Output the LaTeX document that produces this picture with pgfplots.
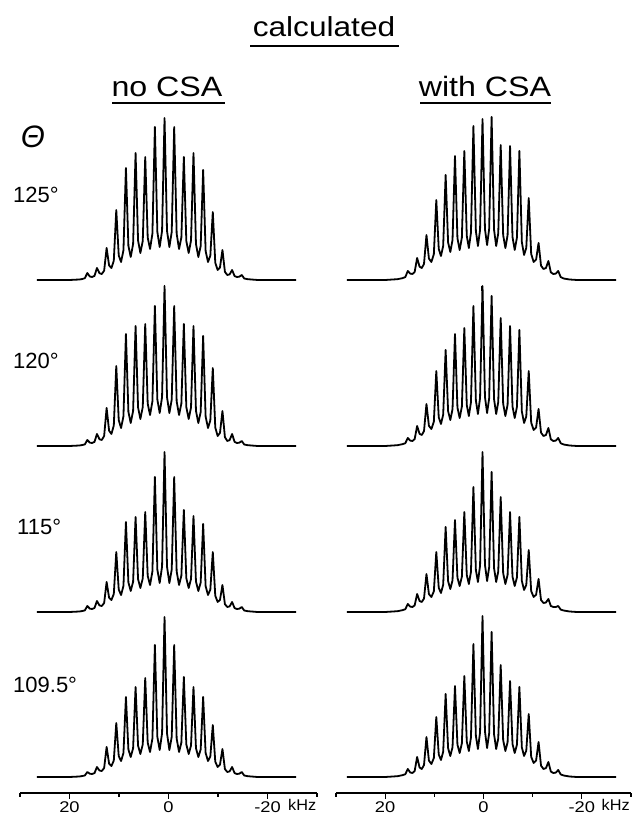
\documentclass[border=0pt]{standalone}
\usepackage{pgfplots}
\pgfplotsset{compat=1.18}
\usepackage{fontspec}
\setmainfont{Liberation Sans}
\pgfplotsset{
  spec/.style={scale only axis, height=181pt, xmin=-30, xmax=30, ymin=-16, ymax=165,
    x dir=reverse, clip=false, anchor=south west},
  specL/.style={spec, width=297pt},
  specR/.style={spec, width=295pt},
  hid/.style={hide axis},
  bot/.style={hide y axis, axis x line*=bottom,
    axis line style={line width=1.4pt, black},
    xtick={20,0,-20}, xticklabels={20,0,-20}, minor xtick={30,10,-10,-30},
    tick align=outside, major tick length=6pt, minor tick length=4pt,
    every tick/.style={line width=1.2pt, black},
    xticklabel style={font=\fontsize{15.5}{18}\selectfont, xscale=1.18, inner sep=2pt}},
  sp/.style={black, line width=1.8pt, line join=round, mark=none},
}
\begin{document}
\begin{tikzpicture}
\path[use as bounding box] (0pt,0pt) rectangle (633pt,818pt);
% ---------- left column (no CSA) ----------
\begin{axis}[specL, hid, at={(20pt,522pt)}]
\addplot[sp] coordinates {
(26.6,0) (20,0) (18,0.5) (17.4,1)
(16.9,1.8) (16.4,7) (15.9,3.5) (15.43,3)
(14.95,4.1) (14.45,12) (13.95,6.8) (13.48,6)
(13.0,9.3) (12.5,32) (12.0,14.5) (11.53,12)
(11.05,19.3) (10.55,70) (10.05,24.5) (9.58,18)
(9.1,29.8) (8.6,112) (8.1,34.1) (7.63,23)
(7.15,36) (6.65,127) (6.15,39.5) (5.68,27)
(5.2,39) (4.7,123) (4.2,42.5) (3.73,31)
(3.25,46.3) (2.75,153) (2.25,48) (1.78,33)
(1.3,49.1) (0.8,162) (0.3,49.1) (-0.18,33)
(-0.65,48) (-1.15,153) (-1.65,46.3) (-2.13,31)
(-2.6,42.5) (-3.1,123) (-3.6,39) (-4.08,27)
(-4.55,39.5) (-5.05,127) (-5.55,36) (-6.03,23)
(-6.5,33.9) (-7.0,110) (-7.5,29) (-7.98,18)
(-8.45,24.3) (-8.95,68) (-9.45,17.3) (-9.93,10)
(-10.4,12.5) (-10.9,30) (-11.4,8.1) (-11.88,5)
(-12.35,5.6) (-12.85,10) (-13.35,3.9) (-13.83,3)
(-14.3,3.3) (-14.8,5) (-15.3,1.5) (-16,0.8) (-18,0) (-25.8,0)};
\addplot[black, line width=1.2pt] coordinates {(0.8,-5) (0.8,-10)};
\end{axis}
\begin{axis}[specL, hid, at={(20pt,356pt)}]
\addplot[sp] coordinates {
(26.6,0) (20,0) (18,0.5) (17.4,1)
(16.9,1.6) (16.4,6) (15.9,3.4) (15.43,3)
(14.95,4.1) (14.45,12) (13.95,6.8) (13.48,6)
(13.0,10) (12.5,38) (12.0,15.3) (11.53,12)
(11.05,20.5) (10.55,80) (10.05,25.8) (9.58,18)
(9.1,29.8) (8.6,112) (8.1,34.1) (7.63,23)
(7.15,35.1) (6.65,120) (6.15,38.6) (5.68,27)
(5.2,38.9) (4.7,122) (4.2,42.4) (3.73,31)
(3.25,44.6) (2.75,140) (2.25,46.4) (1.78,33)
(1.3,48.9) (0.8,160) (0.3,48.9) (-0.18,33)
(-0.65,46.4) (-1.15,140) (-1.65,44.6) (-2.13,31)
(-2.6,42.4) (-3.1,122) (-3.6,38.9) (-4.08,27)
(-4.55,38.6) (-5.05,120) (-5.55,35.1) (-6.03,23)
(-6.5,33.9) (-7.0,110) (-7.5,29.5) (-7.98,18)
(-8.45,25.5) (-8.95,78) (-9.45,18.5) (-9.93,10)
(-10.4,13.1) (-10.9,35) (-11.4,8.8) (-11.88,5)
(-12.35,5.9) (-12.85,12) (-13.35,4.1) (-13.83,3)
(-14.3,3.3) (-14.8,5) (-15.3,1.5) (-16,0.8) (-18,0) (-25.8,0)};
\end{axis}
\begin{axis}[specL, hid, at={(20pt,190pt)}]
\addplot[sp] coordinates {
(26.6,0) (20,0) (18,0.5) (17.4,1)
(16.9,1.6) (16.4,6) (15.9,3.4) (15.43,3)
(14.95,4) (14.45,11) (13.95,6.6) (13.48,6)
(13.0,9) (12.5,30) (12.0,14.3) (11.53,12)
(11.05,18) (10.55,60) (10.05,22.4) (9.58,17)
(9.1,26.1) (8.6,90) (8.1,29.6) (7.63,21)
(7.15,30.3) (6.65,95) (6.15,32.9) (5.68,24)
(5.2,33.5) (4.7,100) (4.2,36.1) (3.73,27)
(3.25,40.5) (2.75,135) (2.25,42.3) (1.78,29)
(1.3,45.4) (0.8,160) (0.3,45.4) (-0.18,29)
(-0.65,42.3) (-1.15,135) (-1.65,40.5) (-2.13,27)
(-2.6,36.4) (-3.1,102) (-3.6,33.8) (-4.08,24)
(-4.55,33) (-5.05,96) (-5.55,30.4) (-6.03,21)
(-6.5,29.4) (-7.0,88) (-7.5,25.9) (-7.98,17)
(-8.45,22.4) (-8.95,60) (-9.45,16.3) (-9.93,10)
(-10.4,12.1) (-10.9,27) (-11.4,7.8) (-11.88,5)
(-12.35,5.6) (-12.85,10) (-13.35,3.9) (-13.83,3)
(-14.3,3.3) (-14.8,5) (-15.3,1.5) (-16,0.8) (-18,0) (-25.8,0)};
\end{axis}
\begin{axis}[specL, bot, at={(20pt,25pt)}]
\addplot[sp] coordinates {
(26.6,0) (20,0) (18,0.5) (17.4,1)
(16.9,1.5) (16.4,5) (15.9,3.3) (15.43,3)
(14.95,3.9) (14.45,10) (13.95,6.5) (13.48,6)
(13.0,9) (12.5,30) (12.0,13.4) (11.53,11)
(11.05,16.4) (10.55,54) (10.05,20.8) (9.58,16)
(9.1,24) (8.6,80) (8.1,27.5) (7.63,20)
(7.15,28.8) (6.65,90) (6.15,31.4) (5.68,23)
(5.2,32.5) (4.7,99) (4.2,34.3) (3.73,25)
(3.25,38.4) (2.75,132) (2.25,40.1) (1.78,27)
(1.3,43.6) (0.8,160) (0.3,43.6) (-0.18,27)
(-0.65,40.1) (-1.15,132) (-1.65,38.4) (-2.13,25)
(-2.6,34.4) (-3.1,100) (-3.6,32.6) (-4.08,23)
(-4.55,31.4) (-5.05,90) (-5.55,28.8) (-6.03,20)
(-6.5,27.5) (-7.0,80) (-7.5,24) (-7.98,16)
(-8.45,20.5) (-8.95,52) (-9.45,15.3) (-9.93,10)
(-10.4,12.3) (-10.9,28) (-11.4,7.9) (-11.88,5)
(-12.35,5.6) (-12.85,10) (-13.35,3.9) (-13.83,3)
(-14.3,3.3) (-14.8,5) (-15.3,1.5) (-16,0.8) (-18,0) (-25.8,0)};
\node[anchor=base, xscale=1.05, font=\fontsize{15.5}{18}\selectfont] at (axis cs:-27.0,-16) [yshift=-17pt] {kHz};
\end{axis}
% ---------- right column (with CSA) ----------
\begin{axis}[specR, hid, at={(336pt,522pt)}]
\addplot[sp] coordinates {
(27.8,0) (20,0) (17.5,0.8) (16.5,1.8)
(15.9,2.9) (15.4,9) (14.9,6.4) (14.45,6)
(14.0,8) (13.5,22) (13.0,13.3) (12.55,12)
(12.1,16.1) (11.6,45) (11.1,21.4) (10.6,18)
(10.1,25.8) (9.6,80) (9.1,31) (8.65,24)
(8.2,34.1) (7.7,105) (7.2,37.6) (6.75,28)
(6.3,40) (5.8,124) (5.3,41.8) (4.85,30)
(4.4,42.4) (3.9,129) (3.4,44.1) (2.98,32)
(2.55,47.3) (2.05,154) (1.55,49) (1.13,34)
(0.7,49.9) (0.2,161) (-0.3,50.8) (-0.73,35)
(-1.15,51) (-1.65,163) (-2.15,50.1) (-2.58,34)
(-3.0,46.6) (-3.5,135) (-4.0,44.9) (-4.45,32)
(-4.9,44.8) (-5.4,134) (-5.9,43) (-6.35,30)
(-6.8,42.4) (-7.3,129) (-7.8,38) (-8.25,25)
(-8.7,32.1) (-9.2,82) (-9.7,26) (-10.2,18)
(-10.7,20.4) (-11.2,37) (-11.7,14.3) (-12.2,11)
(-12.7,12) (-13.2,19) (-13.7,7.6) (-14.2,6)
(-14.7,6.4) (-15.2,9) (-15.7,2.9) (-16.3,1.5) (-17.5,0.5) (-19,0) (-27,0)};
\addplot[black, line width=1.2pt] coordinates {(0.4,-6) (0.4,-11)};
\end{axis}
\begin{axis}[specR, hid, at={(336pt,356pt)}]
\addplot[sp] coordinates {
(27.8,0) (20,0) (17.5,0.8) (16.5,1.8)
(15.9,2.8) (15.4,8) (14.9,5.4) (14.45,5)
(14.0,6.9) (13.5,20) (13.0,12.1) (12.55,11)
(12.1,14.9) (11.6,42) (11.1,20.1) (10.6,17)
(10.1,24.3) (9.6,75) (9.1,28.6) (8.65,22)
(8.2,31.3) (7.7,96) (7.2,34.8) (6.75,26)
(6.3,36.8) (5.8,112) (5.3,38.5) (4.85,28)
(4.4,39.3) (3.9,118) (3.4,41) (2.98,30)
(2.55,43.8) (2.05,140) (1.55,45.5) (1.13,32)
(0.7,48) (0.2,160) (-0.3,48.9) (-0.73,33)
(-1.15,47.6) (-1.65,150) (-2.15,46.8) (-2.58,32)
(-3.0,44) (-3.5,128) (-4.0,42.3) (-4.45,30)
(-4.9,41.3) (-5.4,120) (-5.9,39.5) (-6.35,28)
(-6.8,39) (-7.3,116) (-7.8,34.6) (-8.25,23)
(-8.7,29.5) (-9.2,75) (-9.7,23.4) (-10.2,16)
(-10.7,18.6) (-11.2,37) (-11.7,13.4) (-12.2,10)
(-12.7,11) (-13.2,18) (-13.7,6.6) (-14.2,5)
(-14.7,5.4) (-15.2,8) (-15.7,2.8) (-16.3,1.5) (-17.5,0.5) (-19,0) (-27,0)};
\end{axis}
\begin{axis}[specR, hid, at={(336pt,190pt)}]
\addplot[sp] coordinates {
(27.8,0) (20,0) (17.5,0.8) (16.5,1.8)
(15.9,2.8) (15.4,8) (14.9,5.4) (14.45,5)
(14.0,6.6) (13.5,18) (13.0,11) (12.55,10)
(12.1,13.5) (11.6,38) (11.1,17.9) (10.6,15)
(10.1,20.6) (9.6,60) (9.1,24.1) (8.65,19)
(8.2,27.3) (7.7,85) (7.2,30.8) (6.75,23)
(6.3,31.6) (5.8,92) (5.3,34.3) (4.85,26)
(4.4,35.3) (3.9,100) (3.4,37) (2.98,28)
(2.55,40.1) (2.05,125) (1.55,41.9) (1.13,30)
(0.7,46.3) (0.2,160) (-0.3,47.1) (-0.73,31)
(-1.15,44.6) (-1.65,140) (-2.15,43.8) (-2.58,30)
(-3.0,40.6) (-3.5,115) (-4.0,38.9) (-4.45,28)
(-4.9,37) (-5.4,100) (-5.9,35.3) (-6.35,26)
(-6.8,34.6) (-7.3,95) (-7.8,31.1) (-8.25,22)
(-8.7,27) (-9.2,62) (-9.7,20.9) (-10.2,15)
(-10.7,17.3) (-11.2,33) (-11.7,12) (-12.2,9)
(-12.7,9.5) (-13.2,13) (-13.7,6) (-14.2,5)
(-14.7,5) (-15.2,6) (-15.7,2.4) (-16.3,1.5) (-17.5,0.5) (-19,0) (-27,0)};
\end{axis}
\begin{axis}[specR, bot, at={(336pt,25pt)}]
\addplot[sp] coordinates {
(27.8,0) (20,0) (17.5,0.8) (16.5,1.8)
(15.9,2.8) (15.4,8) (14.9,4.5) (14.45,4)
(14.0,6) (13.5,20) (13.0,9.5) (12.55,8)
(12.1,12) (11.6,40) (11.1,16.4) (10.6,13)
(10.1,18.9) (9.6,60) (9.1,22.4) (8.65,17)
(8.2,25.3) (7.7,83) (7.2,28.8) (6.75,21)
(6.3,29.8) (5.8,91) (5.3,32.4) (4.85,24)
(4.4,33.6) (3.9,101) (3.4,35.4) (2.98,26)
(2.55,39.4) (2.05,133) (1.55,41.1) (1.13,28)
(0.7,44.6) (0.2,161) (-0.3,45.5) (-0.73,29)
(-1.15,43.5) (-1.65,145) (-2.15,42.6) (-2.58,28)
(-3.0,38.5) (-3.5,112) (-4.0,36.8) (-4.45,26)
(-4.9,34.8) (-5.4,96) (-5.9,33) (-6.35,24)
(-6.8,32.3) (-7.3,90) (-7.8,29.6) (-8.25,21)
(-8.7,26.3) (-9.2,63) (-9.7,20.1) (-10.2,14)
(-10.7,16.6) (-11.2,35) (-11.7,11.4) (-12.2,8)
(-12.7,8.9) (-13.2,15) (-13.7,5.4) (-14.2,4)
(-14.7,4.4) (-15.2,7) (-15.7,2.6) (-16.3,1.5) (-17.5,0.5) (-19,0) (-27,0)};
\node[anchor=base, xscale=1.05, font=\fontsize{15.5}{18}\selectfont] at (axis cs:-26.9,-16) [yshift=-17pt] {kHz};
\end{axis}
% ---------- titles and labels ----------
\node[anchor=base, xscale=1.15, font=\fontsize{27.5}{33}\selectfont, inner sep=0pt] at (324pt,781pt) {calculated};
\draw[line width=1.8pt] (250pt,772pt) -- (399pt,772pt);
\node[anchor=base, xscale=1.15, font=\fontsize{28}{34}\selectfont, inner sep=0pt] at (167pt,721pt) {no CSA};
\draw[line width=1.8pt] (112pt,715pt) -- (225pt,715pt);
\node[anchor=base, xscale=1.15, font=\fontsize{28}{34}\selectfont, inner sep=0pt] at (485pt,721pt) {with CSA};
\draw[line width=1.8pt] (420pt,715pt) -- (551pt,715pt);
\node[anchor=base, font=\fontsize{31}{37}\selectfont\itshape, inner sep=0pt] at (33pt,670pt) {Θ};
\node[anchor=base west, font=\fontsize{22}{26}\selectfont, inner sep=0pt] at (13pt,615pt) {125°};
\node[anchor=base west, font=\fontsize{22}{26}\selectfont, inner sep=0pt] at (13pt,449pt) {120°};
\node[anchor=base west, font=\fontsize{22}{26}\selectfont, inner sep=0pt] at (17pt,283pt) {115°};
\node[anchor=base west, font=\fontsize{22}{26}\selectfont, inner sep=0pt] at (13pt,125pt) {109.5°};
\end{tikzpicture}
\end{document}
